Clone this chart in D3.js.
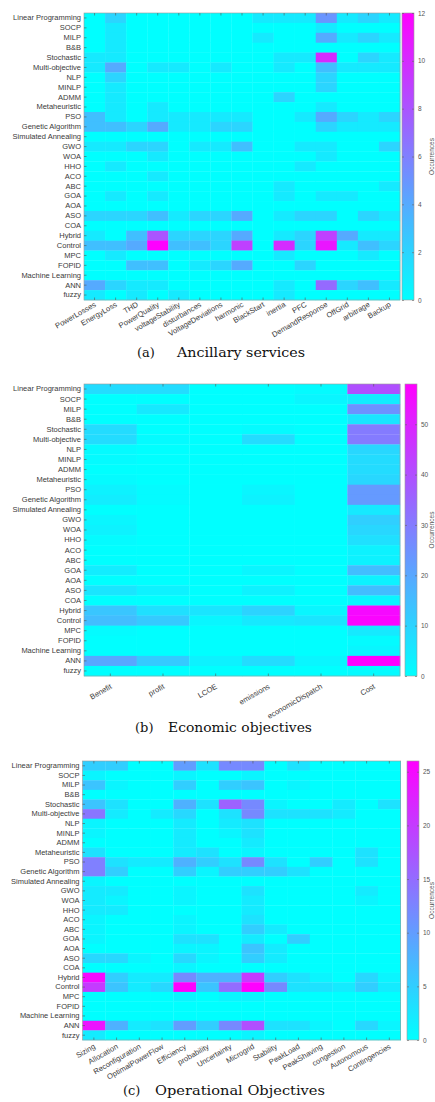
<!DOCTYPE html>
<html>
<head>
<meta charset="utf-8">
<script src="https://cdn.jsdelivr.net/npm/d3@7"></script>
<style>
body{margin:0;background:#fff;}
svg{display:block;}
.tick text{font-family:"Liberation Sans",Arial,sans-serif;fill:#3a3a3a;}
</style>
</head>
<body>
<div id="chart"></div>
<script>
// rows (methods) shared by all three heatmaps
const methods = ['Linear Programming','SOCP','MILP','B&B','Stochastic','Multi-objective','NLP','MINLP','ADMM',
  'Metaheuristic','PSO','Genetic Algorithm','Simulated Annealing','GWO','WOA','HHO','ACO','ABC','GOA','AOA',
  'ASO','COA','Hybrid','Control','MPC','FOPID','Machine Learning','ANN','fuzzy'];

// (a) ancillary services
const ancillaryCols = ['PowerLosses','EnergyLoss','THD','PowerQuality','voltageStability','disturbances',
  'VoltageDeviations','harmonic','BlackStart','inertia','PFC','DemandResponse','OffGrid','arbitrage','Backup'];
const ancillaryValues = [
  [0,2,0,0,0,0,0,0,1,1,1,5,1,2,1],
  [0,1,0,0,0,0,0,0,0,0,0,1,0,0,0],
  [0,1,0,0,0,0,0,0,1,0,0,4,1,2,1],
  [0,1,0,0,0,0,0,0,0,0,0,0,0,0,0],
  [1,1,0,0,0,0,0,0,0,1,1,10,0,2,1],
  [1,4,0,1,1,0,1,0,0,1,0,3,1,1,1],
  [0,2,0,0,0,0,0,0,0,0,0,2,0,0,0],
  [0,1,0,0,0,0,0,0,0,0,0,2,0,0,0],
  [0,1,0,0,0,0,0,0,0,2,0,0,0,0,0],
  [0,1,0,1,0,0,0,0,0,0,0,1,0,0,0],
  [3,1,0,1,1,1,1,1,0,0,1,4,2,1,2],
  [3,3,2,4,1,1,2,2,0,0,0,2,1,1,1],
  [0,0,0,0,0,0,0,0,0,0,0,0,0,0,0],
  [1,1,2,2,0,1,1,3,0,0,1,1,0,0,2],
  [0,0,0,1,0,0,0,0,0,0,0,1,0,0,0],
  [0,1,0,0,0,0,0,0,0,0,1,0,0,0,0],
  [0,0,0,1,0,0,0,0,0,0,0,0,0,0,0],
  [0,0,0,0,0,0,0,0,0,1,0,0,0,0,1],
  [0,1,0,1,0,0,0,0,0,1,0,1,1,0,0],
  [0,0,0,0,0,0,0,0,0,0,0,0,0,0,0],
  [2,2,2,3,1,2,2,4,0,1,2,2,0,2,1],
  [0,0,0,0,0,0,0,0,0,0,0,0,0,0,0],
  [1,0,3,8,2,2,2,4,0,1,2,9,4,1,1],
  [3,3,4,12,3,3,2,9,0,10,2,11,1,3,2],
  [0,1,0,0,0,0,0,0,0,1,0,0,0,1,0],
  [0,0,3,3,0,1,2,4,0,0,2,0,0,0,0],
  [0,0,0,0,0,0,0,0,0,0,0,0,0,0,0],
  [4,2,1,1,0,0,0,0,0,1,0,7,2,3,1],
  [1,0,1,0,1,0,0,0,0,1,0,0,0,0,0]
];

// (b) economic objectives
const economicCols = ['Benefit','profit','LCOE','emissions','economicDispatch','Cost'];
const economicValues = [
  [8,8,0,0,1,40],
  [0,0,0,0,2,4],
  [0,5,0,0,0,25],
  [0,0,0,0,0,6],
  [8,0,0,1,0,30],
  [8,1,0,8,0,30],
  [1,0,0,0,0,9],
  [1,0,0,0,0,8],
  [0,0,0,0,0,8],
  [1,0,0,0,0,9],
  [3,1,0,2,0,23],
  [4,1,0,3,0,23],
  [0,0,0,0,0,5],
  [2,0,0,0,0,11],
  [3,0,0,0,0,9],
  [1,0,0,0,0,7],
  [0,0,0,0,0,3],
  [0,0,0,0,0,3],
  [4,0,0,2,0,15],
  [0,0,0,0,0,3],
  [6,3,0,3,0,15],
  [0,0,0,0,0,2],
  [13,7,6,10,2,56],
  [15,12,2,5,6,57],
  [1,0,0,0,0,5],
  [0,0,0,0,0,1],
  [0,0,0,0,0,2],
  [20,12,3,8,2,58],
  [0,0,0,0,0,1]
];

// (c) operational objectives
const operationalCols = ['Sizing','Allocation','Reconfiguration','OptimalPowerFlow','Efficiency','probability',
  'Uncertainty','Microgrid','Stability','PeakLoad','PeakShaving','congestion','Autonomous','Contingencies'];
const operationalValues = [
  [5,5,0,0,10,3,12,12,0,3,0,0,0,0],
  [1,0,0,0,1,0,0,1,0,0,0,0,0,0],
  [6,1,0,0,5,0,5,6,0,1,0,0,0,0],
  [0,0,0,0,0,0,0,0,0,0,0,0,0,0],
  [6,3,0,0,8,3,16,12,1,0,0,2,0,3],
  [14,2,0,2,4,0,3,12,3,3,3,2,0,0],
  [1,0,0,0,2,0,2,3,0,0,0,0,0,0],
  [1,0,0,0,2,0,1,3,0,0,0,0,0,0],
  [0,0,0,0,2,0,0,2,0,0,0,0,0,0],
  [3,0,0,0,2,3,0,1,0,0,0,0,3,0],
  [13,3,2,2,8,5,3,12,3,0,5,0,3,0],
  [13,5,0,0,5,1,5,5,5,3,0,0,0,0],
  [1,0,0,0,0,0,0,0,0,0,0,0,0,0],
  [2,2,0,0,1,0,0,3,0,0,0,0,2,0],
  [2,1,0,0,1,0,0,2,0,0,0,0,1,0],
  [2,2,0,0,0,0,0,2,0,0,0,0,0,0],
  [1,0,0,0,1,0,0,3,0,0,0,0,0,0],
  [1,0,0,0,1,0,0,5,2,0,0,0,0,0],
  [1,0,0,0,3,3,0,2,0,5,0,0,0,0],
  [0,0,0,0,1,1,0,6,2,0,0,0,0,0],
  [4,4,1,0,4,1,0,5,2,0,0,0,0,0],
  [0,0,0,0,1,0,0,0,0,0,0,0,0,0],
  [25,5,2,2,12,8,8,20,5,3,1,0,4,1],
  [20,6,2,4,26,6,15,26,12,3,3,2,5,2],
  [0,0,0,0,1,0,1,1,0,0,0,0,0,0],
  [0,0,0,0,0,0,0,0,0,0,0,0,0,0],
  [0,0,0,0,0,0,0,0,0,0,0,0,0,0],
  [24,8,2,3,10,5,12,18,3,3,1,0,4,1],
  [2,0,0,0,0,0,0,1,0,0,0,0,0,0]
];

const captions = [['(a)','Ancillary services'],['(b)','Economic objectives'],['(c)','Operational Objectives']];
const cbarTicks = [d3.range(0,13,2), d3.range(0,51,10), d3.range(0,26,5)];

const svg = d3.select('#chart').append('svg').attr('width',435).attr('height',1102);
const defs = svg.append('defs');
const cool = d3.interpolateRgb('#00ffff','#ff00ff'); // matlab "cool"

// layout per panel
const panels = [
  {cols:ancillaryCols, values:ancillaryValues, left:84, right:400, top:13, bottom:300, cbX:402, lab:6,
   capY:357, capX:[137,177], capW:128},
  {cols:economicCols, values:economicValues, left:84, right:400, top:384, bottom:676, cbX:405, lab:12,
   capY:732, capX:[135,168], capW:144},
  {cols:operationalCols, values:operationalValues, left:82.5, right:400.7, top:761, bottom:1040, cbX:407, lab:8,
   capY:1095, capX:[123,155], capW:170}
];

panels.forEach((p,i)=>drawPanel(p,i));

function drawPanel(p,i){
  const vmax = d3.max(p.values.flat());
  const color = d3.scaleSequential(cool).domain([0,vmax]);
  const x = d3.scaleBand().domain(p.cols).range([p.left,p.right]);
  const y = d3.scaleBand().domain(methods).range([p.top,p.bottom]);
  const g = svg.append('g');

  const cells = [];
  p.values.forEach((row,r)=>row.forEach((v,c)=>cells.push({m:methods[r],c:p.cols[c],v:v})));
  g.selectAll('rect.cell').data(cells).join('rect').attr('class','cell')
    .attr('x',d=>x(d.c)).attr('y',d=>y(d.m))
    .attr('width',x.bandwidth()+0.3).attr('height',y.bandwidth()+0.3)
    .attr('fill',d=>color(d.v));

  g.append('rect').attr('x',p.left).attr('y',p.top)
    .attr('width',p.right-p.left).attr('height',p.bottom-p.top)
    .attr('fill','none').attr('stroke','#9a9a9a').attr('stroke-width',0.6);

  // y labels
  const yAxis = g.append('g').attr('transform',`translate(${p.left},0)`)
    .call(d3.axisLeft(y).tickSizeInner(-2.5).tickSizeOuter(0).tickPadding(3));
  yAxis.select('.domain').remove();
  yAxis.selectAll('line').attr('stroke','#555').attr('stroke-width',0.6);
  yAxis.selectAll('text').style('font-size','7.5px');

  // x labels, rotated
  const xAxis = g.append('g').attr('transform',`translate(0,${p.bottom})`)
    .call(d3.axisBottom(x).tickSizeInner(-2.5).tickSizeOuter(0));
  xAxis.select('.domain').remove();
  xAxis.selectAll('line').attr('stroke','#555').attr('stroke-width',0.6);
  xAxis.selectAll('text').style('font-size','7.6px')
    .attr('text-anchor','end').attr('dy',null).attr('y',null)
    .attr('transform',`translate(2,${p.lab}) rotate(-30)`);

  const xTop = g.append('g').attr('transform',`translate(0,${p.top})`)
    .call(d3.axisTop(x).tickSizeInner(-2.5).tickSizeOuter(0).tickFormat(''));
  xTop.select('.domain').remove();
  xTop.selectAll('line').attr('stroke','#555').attr('stroke-width',0.6);

  // colorbar
  const cbW = 12;
  const gradId = 'cb'+i;
  const grad = defs.append('linearGradient').attr('id',gradId)
    .attr('x1',0).attr('y1',1).attr('x2',0).attr('y2',0);
  d3.range(0,1.01,0.1).forEach(t=>grad.append('stop').attr('offset',t).attr('stop-color',cool(t)));
  g.append('rect').attr('x',p.cbX).attr('y',p.top).attr('width',cbW).attr('height',p.bottom-p.top)
    .attr('fill',`url(#${gradId})`).attr('stroke','#9a9a9a').attr('stroke-width',0.6);
  const cb = d3.scaleLinear().domain([0,vmax]).range([p.bottom,p.top]);
  const cAxis = g.append('g').attr('transform',`translate(${p.cbX+cbW},0)`)
    .call(d3.axisRight(cb).tickValues(cbarTicks[i]).tickSizeInner(-2).tickSizeOuter(0).tickPadding(4));
  cAxis.select('.domain').remove();
  cAxis.selectAll('line').attr('stroke','#666').attr('stroke-width',0.6);
  cAxis.selectAll('text').style('font-size','6.5px').style('fill','#555');
  const cAxisL = g.append('g').attr('transform',`translate(${p.cbX},0)`)
    .call(d3.axisLeft(cb).tickValues(cbarTicks[i]).tickSizeInner(-2).tickSizeOuter(0).tickFormat(''));
  cAxisL.select('.domain').remove();
  cAxisL.selectAll('line').attr('stroke','#666').attr('stroke-width',0.6);
  g.append('text').attr('transform',`translate(434,${(p.top+p.bottom)/2}) rotate(-90)`)
    .attr('text-anchor','middle').style('font-family','Liberation Sans, Arial, sans-serif')
    .style('font-size','6.5px').style('fill','#555').text('Occurrences');

  // caption
  const cap = g.append('g').style('font-family','DejaVu Serif, serif').style('font-size','13px').style('fill','#111');
  cap.append('text').attr('x',p.capX[0]).attr('y',p.capY).text(captions[i][0]);
  cap.append('text').attr('x',p.capX[1]).attr('y',p.capY)
    .attr('textLength',p.capW).attr('lengthAdjust','spacingAndGlyphs').text(captions[i][1]);
}
</script>
</body>
</html>
